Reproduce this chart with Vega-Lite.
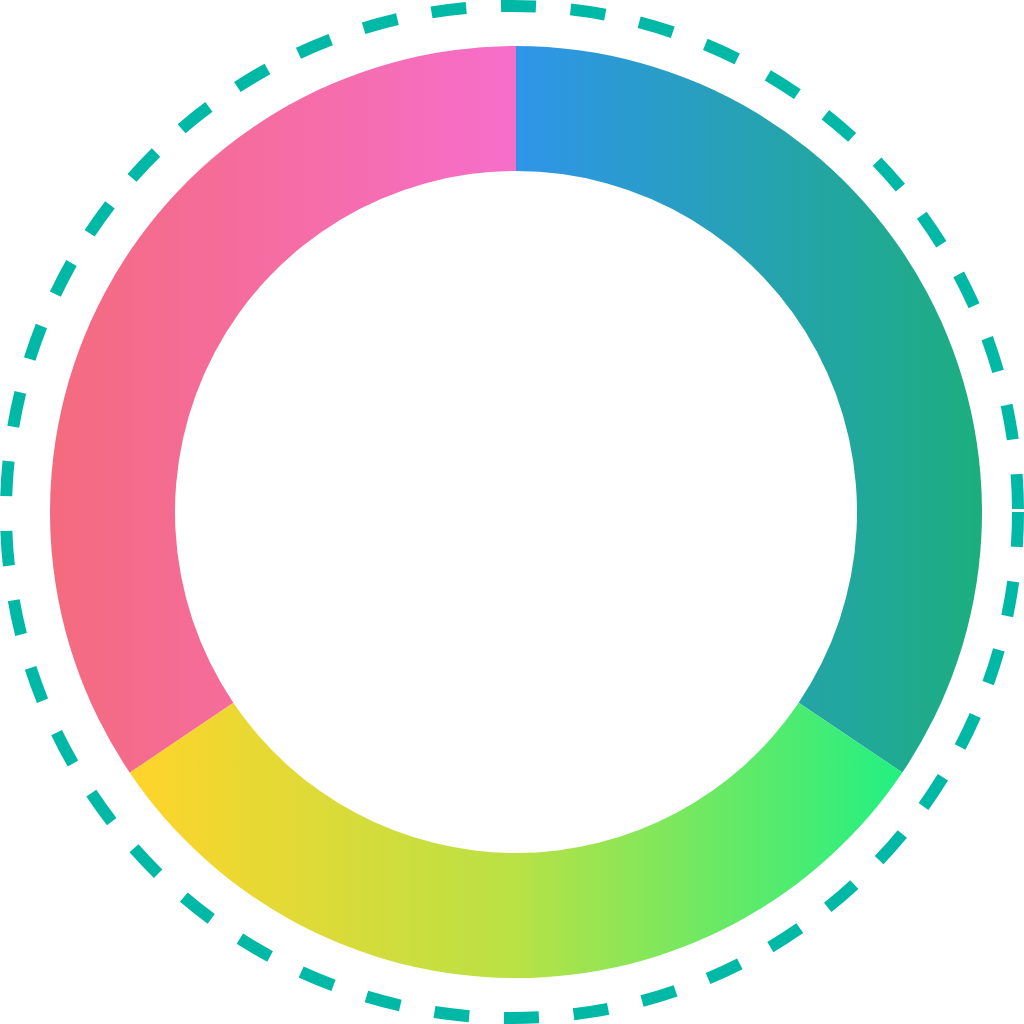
{
  "$schema": "https://vega.github.io/schema/vega-lite/v6.json",
  "width": 1024,
  "height": 1024,
  "autosize": {"type": "fit", "contains": "padding"},
  "padding": 0,
  "background": "white",
  "view": {"stroke": null},
  "layer": [
    {
      "data": {"values": [{"ring": "outline"}]},
      "mark": {
        "type": "arc",
        "theta": 1.5707963268,
        "theta2": 7.9,
        "radius": 506,
        "fill": "transparent",
        "stroke": "#00B8A6",
        "strokeWidth": 12,
        "strokeDash": [35, 34.8]
      },
      "encoding": {}
    },
    {
      "data": {
        "values": [
          {"segment": "A", "order": 1, "value": 124},
          {"segment": "B", "order": 2, "value": 112},
          {"segment": "C", "order": 3, "value": 124}
        ]
      },
      "transform": [
        {"stack": "value", "groupby": [], "as": ["v0", "v1"], "sort": [{"field": "order", "order": "ascending"}]}
      ],
      "layer": [
        {
          "transform": [{"filter": "datum.segment === 'A'"}],
          "mark": {
            "type": "arc",
            "radius": 466,
            "radius2": 341,
            "xOffset": 4,
            "fill": {
              "gradient": "linear", "x1": 0, "y1": 0, "x2": 1, "y2": 0,
              "stops": [{"offset": 0, "color": "#2F95E9"}, {"offset": 1, "color": "#1CAE7E"}]
            }
          },
          "encoding": {
            "theta": {"field": "v0", "type": "quantitative", "scale": {"domain": [0, 360]}},
            "theta2": {"field": "v1"}
          }
        },
        {
          "transform": [{"filter": "datum.segment === 'B'"}],
          "mark": {
            "type": "arc",
            "radius": 466,
            "radius2": 341,
            "xOffset": 4,
            "fill": {
              "gradient": "linear", "x1": 0, "y1": 0, "x2": 1, "y2": 0,
              "stops": [{"offset": 0, "color": "#FFD42A"}, {"offset": 0.5, "color": "#B9E145"}, {"offset": 1, "color": "#22F082"}]
            }
          },
          "encoding": {
            "theta": {"field": "v0", "type": "quantitative", "scale": {"domain": [0, 360]}},
            "theta2": {"field": "v1"}
          }
        },
        {
          "transform": [{"filter": "datum.segment === 'C'"}],
          "mark": {
            "type": "arc",
            "radius": 466,
            "radius2": 341,
            "xOffset": 4,
            "fill": {
              "gradient": "linear", "x1": 0, "y1": 0, "x2": 1, "y2": 0,
              "stops": [{"offset": 0, "color": "#F46B7E"}, {"offset": 1, "color": "#F66ECA"}]
            }
          },
          "encoding": {
            "theta": {"field": "v0", "type": "quantitative", "scale": {"domain": [0, 360]}},
            "theta2": {"field": "v1"}
          }
        }
      ]
    }
  ]
}
